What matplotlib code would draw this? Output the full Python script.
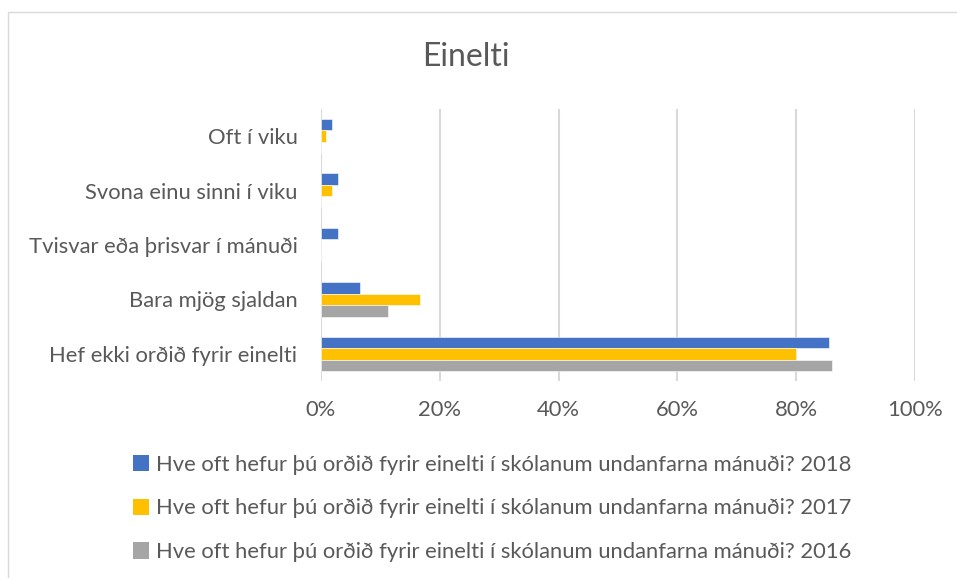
import matplotlib
matplotlib.use("Agg")
import matplotlib.pyplot as plt
import numpy as np
from matplotlib.patches import Rectangle, Patch

categories = ["Oft í viku", "Svona einu sinni í viku", "Tvisvar eða þrisvar í mánuði",
              "Bara mjög sjaldan", "Hef ekki orðið fyrir einelti"]
series_names = ["Hve oft hefur þú orðið fyrir einelti í skólanum undanfarna mánuði? 2018",
                "Hve oft hefur þú orðið fyrir einelti í skólanum undanfarna mánuði? 2017",
                "Hve oft hefur þú orðið fyrir einelti í skólanum undanfarna mánuði? 2016"]
v2018 = [1.8, 2.8, 2.8, 6.6, 85.5]
v2017 = [0.9, 1.9, 0.0, 16.7, 80.0]
v2016 = [0.0, 0.0, 0.0, 11.3, 86.1]
colors = ["#4472C4", "#FFC000", "#A5A5A5"]
xticks = [0, 20, 40, 60, 80, 100]
xticklabels = ["0%", "20%", "40%", "60%", "80%", "100%"]

plt.rcParams['font.family'] = ['Lato', 'DejaVu Sans']
txt = "#595959"
W, H = 957, 578
fig = plt.figure(figsize=(W / 100, H / 100), dpi=100)

# chart border
fig.patches.append(Rectangle((8 / W, -0.1), 1.2, (H - 11.5) / H + 0.1, transform=fig.transFigure,
                             fill=False, edgecolor="#D9D9D9", linewidth=1.0))

ax = fig.add_axes([321 / W, (H - 381) / H, (915 - 321) / W, (381 - 109) / H])
y = np.arange(len(categories))
bh = 0.21
for i, (vals, c) in enumerate(zip([v2018, v2017, v2016], colors)):
    ax.barh(y + (i - 1) * bh, vals, height=bh, color=c, edgecolor="white", linewidth=0.4,
            label=series_names[i], zorder=3)

ax.set_xlim(0, 100)
ax.set_ylim(len(categories) - 0.5, -0.5)
ax.set_xticks(xticks)
ax.set_xticklabels(xticklabels)
ax.set_yticks(y)
ax.set_yticklabels(categories)
ax.grid(axis="x", color="#D9D9D9", linewidth=1.5, zorder=0)
for s in ["top", "right", "bottom", "left"]:
    ax.spines[s].set_visible(False)
ax.tick_params(axis="both", length=0, labelsize=15.8, labelcolor=txt)
ax.tick_params(axis="x", pad=14)
ax.tick_params(axis="y", pad=17)

fig.text(466 / W, 1 - 57 / H, "Einelti", ha="center", va="center", fontsize=23, color=txt)

handles = [Patch(facecolor=c, edgecolor="none") for c in colors]
fig.legend(handles, series_names, loc="upper left", bbox_to_anchor=(124 / W, 1 - 446 / H),
           frameon=False, fontsize=15.8, labelcolor=txt, handlelength=0.75, handleheight=0.75,
           handletextpad=0.3, labelspacing=1.08, borderaxespad=0)

fig.savefig("out.png", dpi=100)
